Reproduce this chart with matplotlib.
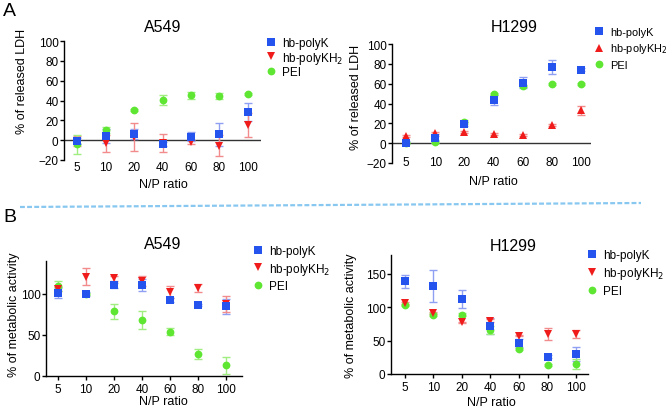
import matplotlib
matplotlib.use('Agg')
import matplotlib.pyplot as plt
from matplotlib.lines import Line2D
import numpy as np

plt.rcParams['font.family'] = ['Liberation Sans', 'DejaVu Sans']

## 데이터
ratios = ['5', '10', '20', '40', '60', '80', '100']
series_names = ['hb-polyK', 'hb-polyKH$_2$', 'PEI']

# A549 - LDH
a549_ldh_k = [-0.5, 4.5, 6.5, -4, 3.5, 6, 28]
a549_ldh_k_err = [3, 7, 5, 2, 4.5, 11.5, 9]
a549_ldh_kh2 = [-1, -3, 3, -3, -2, -5.5, 15.5]
a549_ldh_kh2_err = [5, 8.5, 14, 9, 2, 10.5, 12]
a549_ldh_pei = [-4, 10, 30, 40.5, 45.5, 44.5, 47]
a549_ldh_pei_err = [9.5, 3, 1, 5, 3.5, 3, 1]

# H1299 - LDH
h1299_ldh_k = [0.5, 5, 19.5, 43.5, 61, 76.5, 74]
h1299_ldh_k_err = [1.5, 2, 2, 5, 5.5, 7, 1.5]
h1299_ldh_kh2 = [7, 10, 10.8, 9, 8.4, 18.5, 33]
h1299_ldh_kh2_err = [1, 1, 1, 1, 1, 1, 4.7]
h1299_ldh_pei = [0, 0.7, 21, 49.5, 58, 60, 60]
h1299_ldh_pei_err = [1, 1, 2, 1, 1, 1, 1]

# A549 - metabolic activity
a549_met_k = [101, 100, 110.5, 111, 92.5, 86.5, 85]
a549_met_k_err = [6, 2, 3, 7, 3, 1, 9]
a549_met_kh2 = [106, 121, 119, 115.5, 102, 107, 88]
a549_met_kh2_err = [2, 10, 3, 6, 7, 5, 9.5]
a549_met_pei = [110, 100, 79, 68.5, 54, 26.5, 13]
a549_met_pei_err = [6, 1, 9, 11, 4, 6, 10]

# H1299 - metabolic activity
h1299_met_k = [138.5, 131.5, 112, 71.5, 46, 26, 30]
h1299_met_k_err = [10, 24, 13, 12, 6, 2, 11]
h1299_met_kh2 = [106, 91, 77.5, 80, 57.5, 60, 60]
h1299_met_kh2_err = [1, 1, 1, 2, 1, 9, 6]
h1299_met_pei = [102.5, 88.5, 88.5, 66, 37.5, 13.5, 15]
h1299_met_pei_err = [1, 2, 2, 6, 1, 2, 7]

colors = ['#2453ee', '#f01c1c', '#5ee632']
err_colors = ['#8fa0f2', '#f28c8c', '#a0ee80']

W, H = 666, 410


def px_box(x0, y_top, x1, y_bot):
    return [x0 / W, 1 - y_bot / H, (x1 - x0) / W, (y_bot - y_top) / H]


def draw_panel(ax, k, kerr, kh2, kh2err, pei, peierr, tri, ylim, yticks, xlim, zero_line, xpad):
    x = np.arange(len(ratios))
    data = [(pei, peierr, 'o', 2), (kh2, kh2err, tri, 1), (k, kerr, 's', 0)]
    sizes = {'o': 5.6, 's': 5.4, 'v': 5.8, '^': 5.8}
    handles = {}
    for vals, errs, mk, ci in data:
        ax.errorbar(x, vals, yerr=errs, fmt='none', ecolor=err_colors[ci],
                    elinewidth=1, capsize=3, capthick=1, zorder=2 + ci * 0.1)
        h = ax.plot(x, vals, linestyle='none', marker=mk, color=colors[ci],
                    markersize=sizes[mk], markeredgewidth=0, zorder=5 - ci)[0]
        handles[ci] = h
    ax.set_xlim(*xlim)
    ax.set_ylim(*ylim)
    ax.set_yticks(yticks)
    ax.set_xticks(x)
    ax.set_xticklabels(ratios)
    ax.spines['top'].set_visible(False)
    ax.spines['right'].set_visible(False)
    ax.spines['left'].set_linewidth(1)
    ax.tick_params(axis='y', length=3, width=1, labelsize=8.5, pad=1)
    if zero_line:
        ax.spines['bottom'].set_visible(False)
        ax.axhline(0, color='#333333', lw=1, zorder=1)
        ax.tick_params(axis='x', length=0, labelsize=8.5, pad=xpad)
    else:
        ax.spines['bottom'].set_linewidth(1)
        ax.tick_params(axis='x', length=3, width=1, labelsize=8.5, pad=xpad)
    return [handles[0], handles[1], handles[2]]


fig = plt.figure(figsize=(W / 100, H / 100), dpi=100)

panels = [
    dict(box=px_box(64, 42, 261, 161), d=(a549_ldh_k, a549_ldh_k_err, a549_ldh_kh2, a549_ldh_kh2_err, a549_ldh_pei, a549_ldh_pei_err),
         tri='v', ylim=(-20, 100), yticks=[-20, 0, 20, 40, 60, 80, 100], xlim=(-0.46, 6.46), zero=True, xpad=1,
         title='A549', tpos=(163, 27), ylab='% of released LDH', ypos=(22, 81), xpos=(163, 185),
         leg=(265, 38), lsp=0.05, lfs=8.5),
    dict(box=px_box(392, 45, 591, 164), d=(h1299_ldh_k, h1299_ldh_k_err, h1299_ldh_kh2, h1299_ldh_kh2_err, h1299_ldh_pei, h1299_ldh_pei_err),
         tri='^', ylim=(-20, 100), yticks=[-20, 0, 20, 40, 60, 80, 100], xlim=(-0.48, 6.34), zero=True, xpad=-5,
         title='H1299', tpos=(514, 28), ylab='% of released LDH', ypos=(356, 97), xpos=(493, 182),
         leg=(594, 28), lsp=0.4, lfs=7.9),
    dict(box=px_box(46, 262, 242, 377), d=(a549_met_k, a549_met_k_err, a549_met_kh2, a549_met_kh2_err, a549_met_pei, a549_met_pei_err),
         tri='v', ylim=(0, 140), yticks=[0, 50, 100], xlim=(-0.43, 6.57), zero=False, xpad=2,
         title='A549', tpos=(163, 245), ylab='% of metabolic activity', ypos=(14, 315), xpos=(163, 402),
         leg=(252, 246), lsp=0.3, lfs=8.5),
    dict(box=px_box(391, 256, 588, 375), d=(h1299_met_k, h1299_met_k_err, h1299_met_kh2, h1299_met_kh2_err, h1299_met_pei, h1299_met_pei_err),
         tri='v', ylim=(0, 178), yticks=[0, 50, 100, 150], xlim=(-0.49, 6.42), zero=False, xpad=2,
         title='H1299', tpos=(513, 247), ylab='% of metabolic activity', ypos=(351, 316), xpos=(491, 403),
         leg=(586, 250), lsp=0.35, lfs=8.5),
]

for p in panels:
    ax = fig.add_axes(p['box'])
    hs = draw_panel(ax, *p['d'], tri=p['tri'], ylim=p['ylim'], yticks=p['yticks'],
                    xlim=p['xlim'], zero_line=p['zero'], xpad=p['xpad'])
    fig.text(p['tpos'][0] / W, 1 - p['tpos'][1] / H, p['title'], fontsize=11.5, ha='center', va='center')
    fig.text(p['ypos'][0] / W, 1 - p['ypos'][1] / H, p['ylab'], fontsize=9, rotation=90, ha='center', va='center')
    fig.text(p['xpos'][0] / W, 1 - p['xpos'][1] / H, 'N/P ratio', fontsize=9, ha='center', va='center')
    fig.legend(hs, series_names, loc='upper left', bbox_to_anchor=(p['leg'][0] / W, 1 - p['leg'][1] / H),
               frameon=False, fontsize=p['lfs'], handlelength=1, handletextpad=0.45, labelspacing=p['lsp'],
               borderpad=0, borderaxespad=0)

## 패널 라벨
fig.text(3 / W, 1 - 12 / H, 'A', fontsize=14, ha='left', va='center')
fig.text(3 / W, 1 - 218 / H, 'B', fontsize=14, ha='left', va='center')

## 구분선
fig.add_artist(Line2D([20 / W, 641 / W], [1 - 208 / H, 1 - 204 / H], transform=fig.transFigure,
                      color='#88c8f0', lw=1.6, dashes=(2.2, 1)))

plt.savefig('out.png', dpi=100)
